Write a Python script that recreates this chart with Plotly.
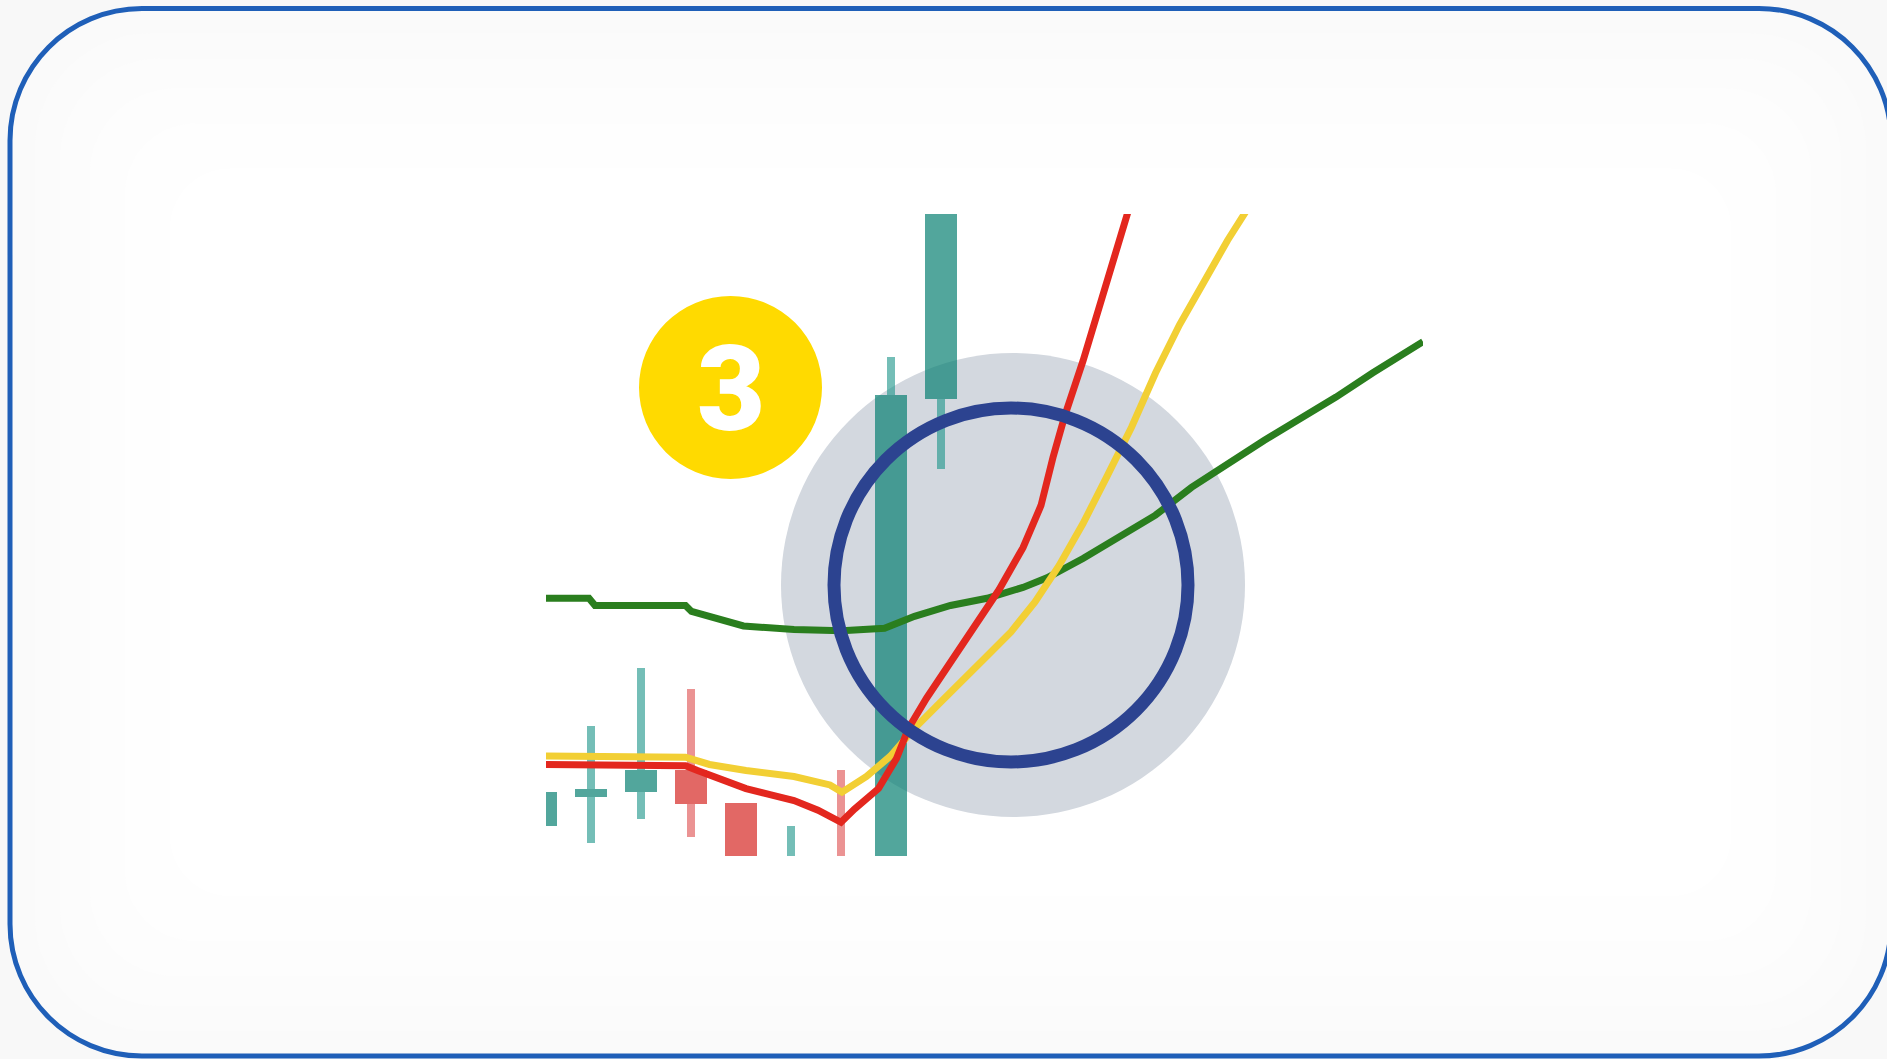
import plotly.graph_objects as go

W, H = 1887, 1059

# ---- candle data (index, OHLC) ----
candle_x = [0, 1, 2, 3, 4, 5, 6, 7, 8]
opens = [102.5, 104.9, 105.3, 107.1, 104.4, 95.0, 98.0, 95.0, 137.9]
highs = [105.3, 110.8, 115.6, 113.9, 104.4, 102.5, 107.1, 141.4, 170.0]
lows = [102.5, 101.1, 103.1, 101.6, 95.0, 94.0, 95.0, 94.0, 132.1]
closes = [105.3, 105.6, 107.1, 104.3, 97.0, 98.0, 96.0, 138.3, 165.0]

# ---- moving averages ----
green_x = [0.10, 0.96, 1.08, 2.89, 3.01, 3.49, 4.05, 5.06, 6.02, 6.87, 7.47, 8.19, 8.92,
           9.64, 10.12, 10.84, 11.57, 12.29, 13.01, 13.73, 14.46, 15.18, 15.90, 16.63, 17.11, 17.64]
green_y = [121.4, 121.4, 120.8, 120.8, 120.3, 119.7, 119.1, 118.8, 118.7, 118.9, 119.9, 120.8, 121.4,
           122.3, 123.1, 124.7, 126.5, 128.3, 130.6, 132.6, 134.5, 136.3, 138.1, 140.1, 141.3, 142.7]

red_x = [0.10, 2.89, 3.13, 3.61, 4.10, 4.58, 5.06, 5.54, 6.00, 6.27, 6.75, 7.11, 7.35, 7.71,
         8.19, 8.67, 9.16, 9.64, 10.00, 10.24, 10.48, 10.84, 11.20, 11.57, 11.93]
red_y = [107.6, 107.5, 107.1, 106.3, 105.6, 105.1, 104.6, 103.8, 102.8, 103.9, 105.6, 108.1, 110.6, 113.1,
         116.1, 119.1, 122.1, 125.6, 129.1, 133.1, 136.6, 141.1, 146.1, 151.1, 156.1]

yellow_x = [0.10, 2.89, 3.37, 4.10, 5.06, 5.78, 6.02, 6.51, 6.99, 7.47, 7.95, 8.43, 8.92, 9.40,
            9.88, 10.36, 10.84, 11.33, 11.81, 12.29, 12.77, 13.25, 13.73, 14.34]
yellow_y = [108.3, 108.2, 107.6, 107.1, 106.6, 105.9, 105.3, 106.6, 108.3, 110.6, 112.6, 114.5, 116.6, 118.6,
            121.1, 124.1, 127.6, 131.6, 135.6, 140.1, 144.1, 147.6, 151.1, 155.1]

badge_text = "3"

UP_BODY = "rgba(8,128,114,0.70)"
UP_WICK = "rgba(30,150,138,0.62)"
DN_BODY = "rgba(218,62,58,0.78)"
DN_WICK = "rgba(222,80,80,0.62)"

up = [c >= o for o, c in zip(opens, closes)]
body_top = [max(o, c) for o, c in zip(opens, closes)]
body_bot = [min(o, c) for o, c in zip(opens, closes)]
body_len = [t - b for t, b in zip(body_top, body_bot)]
upper_len = [h - t for h, t in zip(highs, body_top)]
lower_len = [b - l for b, l in zip(body_bot, lows)]
wick_colors = [UP_WICK if u else DN_WICK for u in up]

fig = go.Figure()
fig.add_trace(go.Bar(x=candle_x, y=upper_len, base=body_top, width=0.17,
                     marker=dict(color=wick_colors, line=dict(width=0)),
                     showlegend=False, hoverinfo="skip"))
fig.add_trace(go.Bar(x=candle_x, y=lower_len, base=lows, width=0.17,
                     marker=dict(color=wick_colors, line=dict(width=0)),
                     showlegend=False, hoverinfo="skip"))
fig.add_trace(go.Bar(x=candle_x, y=body_len, base=body_bot, width=0.64,
                     marker=dict(color=[UP_BODY if u else DN_BODY for u in up], line=dict(width=0)),
                     showlegend=False, hoverinfo="skip"))

fig.add_trace(go.Scatter(x=green_x, y=green_y, mode="lines",
                         line=dict(color="#2A7E1E", width=7), showlegend=False))
fig.add_trace(go.Scatter(x=yellow_x, y=yellow_y, mode="lines",
                         line=dict(color="#F2CF34", width=7), showlegend=False))
fig.add_trace(go.Scatter(x=red_x, y=red_y, mode="lines",
                         line=dict(color="#E3271E", width=7), showlegend=False))


def px(x):
    return x / W


def py(y):
    return 1 - y / H


def rrect(x0, y0, x1, y1, r):
    k = 0.5523 * r
    pts = [
        f"M {px(x0 + r)},{py(y0)}",
        f"L {px(x1 - r)},{py(y0)}",
        f"C {px(x1 - r + k)},{py(y0)} {px(x1)},{py(y0 + r - k)} {px(x1)},{py(y0 + r)}",
        f"L {px(x1)},{py(y1 - r)}",
        f"C {px(x1)},{py(y1 - r + k)} {px(x1 - r + k)},{py(y1)} {px(x1 - r)},{py(y1)}",
        f"L {px(x0 + r)},{py(y1)}",
        f"C {px(x0 + r - k)},{py(y1)} {px(x0)},{py(y1 - r + k)} {px(x0)},{py(y1 - r)}",
        f"L {px(x0)},{py(y0 + r)}",
        f"C {px(x0)},{py(y0 + r - k)} {px(x0 + r - k)},{py(y0)} {px(x0 + r)},{py(y0)}",
        "Z",
    ]
    return " ".join(pts)


def circ(cx, cy, r):
    return dict(x0=px(cx - r), x1=px(cx + r), y0=py(cy + r), y1=py(cy - r))


RX0, RY0, RX1, RY1, RR = 10, 8.5, 1891, 1056, 132

shapes = [
    dict(type="path", xref="paper", yref="paper", layer="below",
         path=rrect(RX0, RY0, RX1, RY1, RR),
         fillcolor="#FAFAFA", line=dict(width=0)),
]
# soft inner vignette
for inset, col, rad in [(25, "#FBFBFB", 115), (50, "#FCFCFC", 100), (80, "#FDFDFD", 85),
                        (115, "#FEFEFE", 70), (160, "#FFFFFF", 60)]:
    shapes.append(dict(type="path", xref="paper", yref="paper", layer="below",
                       path=rrect(RX0 + inset, RY0 + inset, RX1 - inset, RY1 - inset, rad),
                       fillcolor=col, line=dict(width=0)))
shapes += [
    dict(type="path", xref="paper", yref="paper", layer="above",
         path=rrect(RX0, RY0, RX1, RY1, RR),
         fillcolor="rgba(0,0,0,0)", line=dict(color="#1F5FB8", width=5)),
    dict(type="circle", xref="paper", yref="paper", layer="below",
         fillcolor="#D3D8DF", line=dict(width=0), **circ(1013, 585, 232)),
    dict(type="circle", xref="paper", yref="paper", layer="above",
         fillcolor="rgba(0,0,0,0)", line=dict(color="#2C4390", width=13), **circ(1011, 585, 177)),
    dict(type="circle", xref="paper", yref="paper", layer="above",
         fillcolor="#FFDA00", line=dict(width=0), **circ(730.5, 387.5, 91.5)),
]

fig.update_layout(
    width=W, height=H,
    margin=dict(l=0, r=0, t=0, b=0),
    paper_bgcolor="#F8F8F8",
    plot_bgcolor="rgba(0,0,0,0)",
    barmode="overlay",
    bargap=0,
    shapes=shapes,
    xaxis=dict(domain=[px(546), px(1423)], range=[0.10, 17.64], visible=False,
               showgrid=False, zeroline=False, fixedrange=True),
    yaxis=dict(domain=[py(856), py(214)], range=[100, 153.3], visible=False,
               showgrid=False, zeroline=False, fixedrange=True),
    annotations=[dict(text=badge_text, xref="paper", yref="paper",
                      x=px(730.5), y=py(390), xanchor="center", yanchor="middle",
                      showarrow=False,
                      font=dict(family="Roboto", size=118, color="#FFFFFF", weight=900))],
)

fig.write_html("out.html", config={"displayModeBar": False},
               post_script="document.body.style.margin='0';document.body.style.overflow='hidden';")
